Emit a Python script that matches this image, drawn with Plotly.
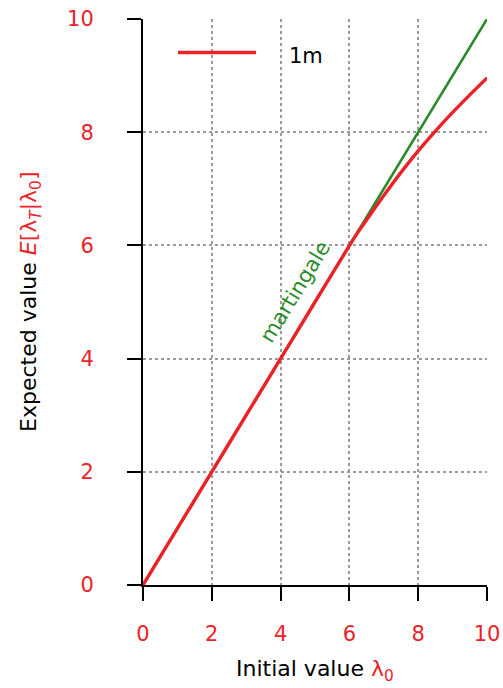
import plotly.graph_objects as go

# Initial value lambda_0 and the expected value E[lambda_T | lambda_0]
lambda0 = [0, 1, 2, 3, 4, 5, 5.5, 6, 6.25, 6.5, 7, 7.5, 8, 8.5, 9, 9.5, 10]
expected_1m = [0, 1, 2, 3, 4, 5, 5.5, 5.995, 6.235, 6.45, 6.88, 7.29, 7.67,
               8.02, 8.35, 8.66, 8.96]

# Martingale reference: E[lambda_T | lambda_0] = lambda_0
martingale_x = [0, 10]
martingale_y = [0, 10]

tick_vals = [0, 2, 4, 6, 8, 10]
tick_text = ["0", "2", "4", "6", "8", "10"]

RED = "#ec2229"
GREEN = "#2a8a2a"
GRID = "#9a9a9a"
FONT = "DejaVu Sans"

fig = go.Figure()
fig.add_trace(go.Scatter(x=martingale_x, y=martingale_y, mode="lines",
                         line=dict(color=GREEN, width=2.6), showlegend=False,
                         hoverinfo="skip"))
fig.add_trace(go.Scatter(x=lambda0, y=expected_1m, mode="lines",
                         line=dict(color=RED, width=3.4, shape="spline",
                                   smoothing=1.0),
                         name="1m", showlegend=False))

axis_common = dict(
    range=[0, 10], tickvals=tick_vals, ticktext=tick_text,
    showgrid=True, gridcolor=GRID, gridwidth=1.6, griddash="3px,3px",
    zeroline=False, showline=True, linecolor="black", linewidth=2,
    ticks="outside", ticklen=14, tickwidth=2, tickcolor="black",
    tickfont=dict(family=FONT, size=21, color=RED),
)

fig.update_xaxes(**axis_common, ticklabelstandoff=15)
fig.update_yaxes(**axis_common, ticklabelstandoff=29)

L, R, T, B = 143, 16, 19, 103
W, H = 503, 688
pw, ph = W - L - R, H - T - B

def px_x(p):
    return (p - L) / pw

def px_y(p):
    return (H - B - p) / ph

annotations = [
    dict(text="Initial value <span style='color:%s'>λ<sub>0</sub></span>" % RED,
         xref="paper", yref="paper", x=0.5, y=px_y(670),
         xanchor="center", yanchor="middle", showarrow=False,
         font=dict(family=FONT, size=22, color="black")),
    dict(text="Expected value <span style='color:%s'><i>E</i>[λ<sub><i>T</i></sub>|λ<sub>0</sub>]</span>" % RED,
         xref="paper", yref="paper", x=px_x(30), y=0.5, textangle=-90,
         xanchor="center", yanchor="middle", showarrow=False,
         font=dict(family=FONT, size=22, color="black")),
    dict(text="martingale", xref="x", yref="y", x=4.42, y=5.18,
         textangle=-58.7, showarrow=False, xanchor="center", yanchor="middle",
         font=dict(family=FONT, size=21, color=GREEN)),
    dict(text="1m", xref="paper", yref="paper", x=px_x(287), y=px_y(56),
         xanchor="left", yanchor="middle", showarrow=False,
         font=dict(family=FONT, size=21, color="black")),
]

shapes = [
    dict(type="line", xref="paper", yref="paper",
         x0=px_x(178), x1=px_x(256), y0=px_y(52.5), y1=px_y(52.5),
         line=dict(color=RED, width=3.4)),
]

fig.update_layout(
    width=W, height=H,
    margin=dict(l=L, r=R, t=T, b=B, autoexpand=False),
    plot_bgcolor="white", paper_bgcolor="white",
    font=dict(family=FONT),
    annotations=annotations, shapes=shapes,
    showlegend=False,
)

fig.write_html("out.html")
